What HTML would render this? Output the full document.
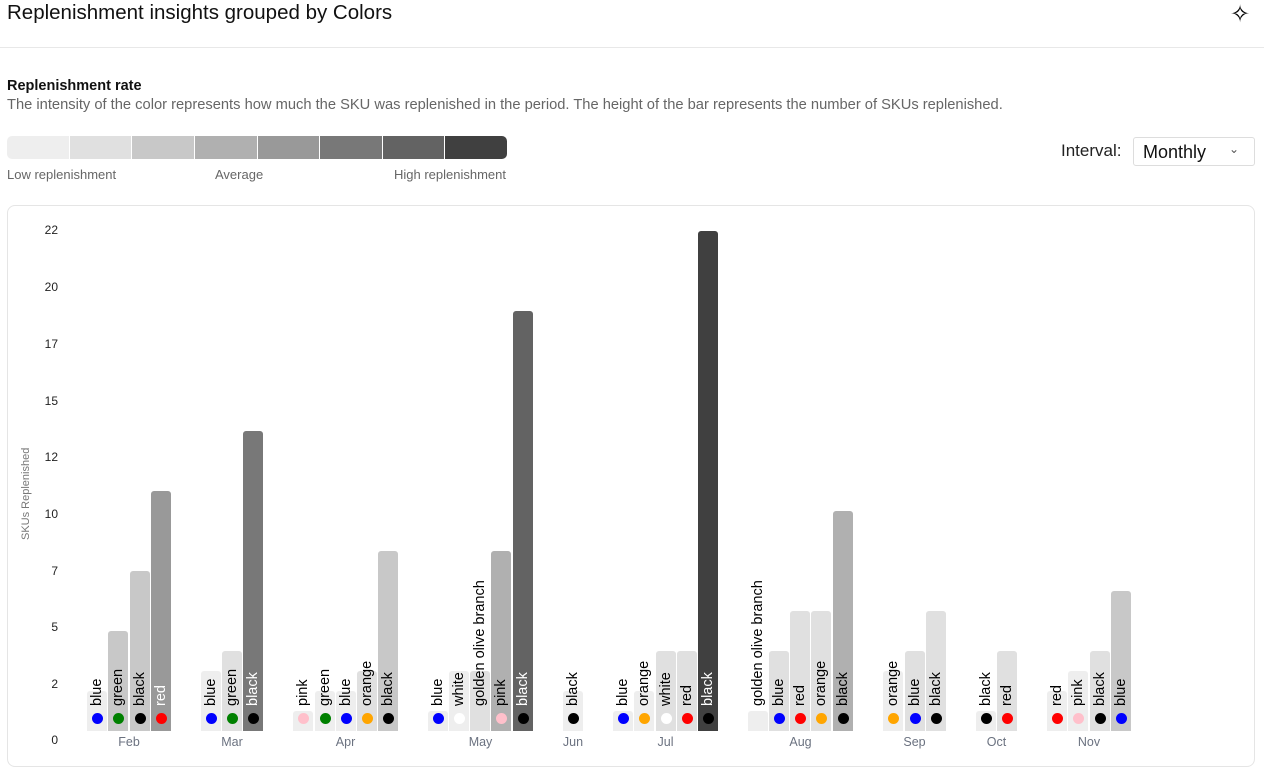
<!DOCTYPE html>
<html><head><meta charset="utf-8"><style>
body{margin:0;width:1264px;height:752px;overflow:hidden;background:#fff;font-family:"Liberation Sans",sans-serif;position:relative}
.a{position:absolute;white-space:nowrap}
.bar{position:absolute;width:20px;border-radius:3px 3px 0 0}
.lbl{position:absolute;font-size:14.5px;color:#000;transform-origin:0 0;transform:rotate(-90deg);white-space:nowrap;line-height:20px}
.dot{position:absolute;width:11px;height:11px;border-radius:50%}
.tk{position:absolute;left:20px;width:38px;text-align:right;font-size:12px;color:#222}
.mo{position:absolute;font-size:12.5px;color:#6b7280;transform:translateX(-50%)}
</style></head><body>
<div class="a" style="left:7px;top:1px;font-size:20.5px;color:#111">Replenishment insights grouped by Colors</div>
<div class="a" style="left:1230px;top:0px;font-size:24px">✧</div>
<div class="a" style="left:0;top:47px;width:1264px;height:1px;background:#e8e8e8"></div>
<div class="a" style="left:7px;top:78px;font-size:14.5px;font-weight:bold;color:#111">Replenishment rate</div>
<div class="a" style="left:7px;top:97px;font-size:14.7px;color:#666">The intensity of the color represents how much the SKU was replenished in the period. The height of the bar represents the number of SKUs replenished.</div>
<div class="a" style="left:7px;top:136px;width:500px;height:23px;display:flex;gap:1px;border-radius:5px;overflow:hidden">
<div style="flex:1;background:#eeeeee"></div><div style="flex:1;background:#e0e0e0"></div><div style="flex:1;background:#c8c8c8"></div><div style="flex:1;background:#b0b0b0"></div><div style="flex:1;background:#999"></div><div style="flex:1;background:#787878"></div><div style="flex:1;background:#636363"></div><div style="flex:1;background:#404040"></div></div>
<div class="a" style="left:7px;top:167px;font-size:13px;color:#666">Low replenishment</div>
<div class="a" style="left:215px;top:167px;font-size:13px;color:#666">Average</div>
<div class="a" style="left:394px;top:167px;font-size:13px;color:#666">High replenishment</div>
<div class="a" style="left:1061px;top:141px;font-size:17px;color:#222">Interval:</div>
<div class="a" style="left:1133px;top:137px;width:120px;height:27px;border:1px solid #ddd;border-radius:3px"></div>
<div class="a" style="left:1143px;top:142px;font-size:18px;color:#111">Monthly</div>
<div class="a" style="left:1229px;top:142px;font-size:12px;color:#555">⌄</div>
<div class="a" style="left:7px;top:205px;width:1246px;height:560px;border:1px solid #e5e5e5;border-radius:8px"></div>
<div class="a" style="left:20px;top:540px;font-size:11px;color:#777;transform-origin:0 0;transform:rotate(-90deg)">SKUs Replenished</div>
<div id="c"></div>
<script>
var c=document.getElementById('c'),h='';
[[22,231],[20,288],[17,345],[15,402],[12,458],[10,515],[7,572],[5,628],[2,685],[0,741]].forEach(function(t){h+='<div class="tk" style="top:'+(t[1]-8)+'px">'+t[0]+'</div>'});
var C={blue:'#0000ff',green:'#008000',black:'#000',red:'#ff0000',pink:'#ffc0cb',orange:'#ffa500',white:'#fff','golden olive branch':'transparent'};
var W={'#999':1,'#787878':1,'#636363':1,'#404040':1};
var d=[
['Feb',[['blue',87,691,'#eee'],['green',108,631,'#c8c8c8'],['black',130,571,'#c8c8c8'],['red',151,491,'#999']]],
['Mar',[['blue',201,671,'#eee'],['green',222,651,'#e0e0e0'],['black',243,431,'#787878']]],
['Apr',[['pink',293,711,'#eee'],['green',315,691,'#eee'],['blue',336,691,'#eee'],['orange',357,671,'#e0e0e0'],['black',378,551,'#c8c8c8']]],
['May',[['blue',428,711,'#eee'],['white',449,671,'#eee'],['golden olive branch',470,671,'#e0e0e0'],['pink',491,551,'#b0b0b0'],['black',513,311,'#636363']]],
['Jun',[['black',563,691,'#eee']]],
['Jul',[['blue',613,711,'#eee'],['orange',634,691,'#eee'],['white',656,651,'#e0e0e0'],['red',677,651,'#e0e0e0'],['black',698,231,'#404040']]],
['Aug',[['golden olive branch',748,711,'#eee'],['blue',769,651,'#e0e0e0'],['red',790,611,'#e0e0e0'],['orange',811,611,'#e0e0e0'],['black',833,511,'#b0b0b0']]],
['Sep',[['orange',883,671,'#eee'],['blue',905,651,'#e0e0e0'],['black',926,611,'#e0e0e0']]],
['Oct',[['black',976,711,'#eee'],['red',997,651,'#e0e0e0']]],
['Nov',[['red',1047,691,'#eee'],['pink',1068,671,'#eee'],['black',1090,651,'#e0e0e0'],['blue',1111,591,'#c8c8c8']]]];
d.forEach(function(m){var xs=m[1];
 xs.forEach(function(b){h+='<div class="bar" style="left:'+b[1]+'px;top:'+b[2]+'px;height:'+(731-b[2])+'px;background:'+b[3]+'"></div>';
  h+='<div class="dot" style="left:'+(b[1]+5)+'px;top:713px;background:'+C[b[0]]+'"></div>';
  h+='<div class="lbl" style="left:'+b[1]+'px;top:706px;color:'+(W[b[3]]?'#fff':'#000')+'">'+b[0]+'</div>';});
 var cx=(xs[0][1]+xs[xs.length-1][1]+20)/2;
 h+='<div class="mo" style="left:'+cx+'px;top:735px">'+m[0]+'</div>';});
c.innerHTML=h;
</script>
</body></html>
